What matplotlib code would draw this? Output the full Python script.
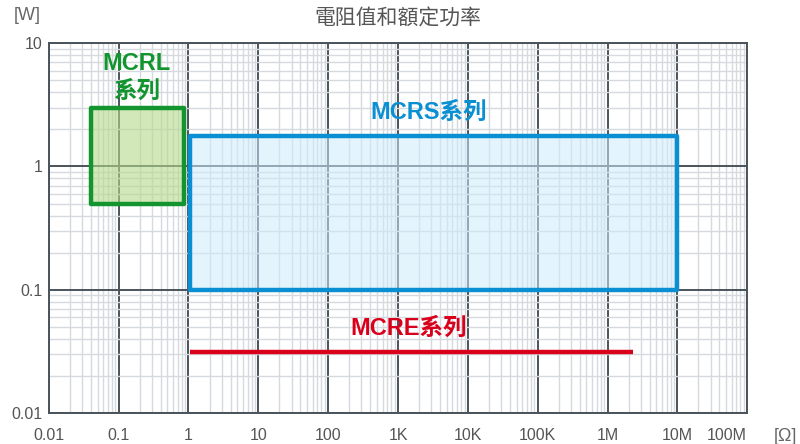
import matplotlib.pyplot as plt
from matplotlib.ticker import LogLocator, FixedLocator, NullFormatter

plt.rcParams['font.family'] = ['Liberation Sans', 'Noto Sans CJK TC', 'DejaVu Sans']

# 軸の目盛り
x_ticks = [0.01, 0.1, 1, 10, 100, 1e3, 1e4, 1e5, 1e6, 1e7, 1e8]
x_labels = ["0.01", "0.1", "1", "10", "100", "1K", "10K", "100K", "1M", "10M", "100M"]
y_ticks = [0.01, 0.1, 1, 10]
y_labels = ["0.01", "0.1", "1", "10"]

# 各シリーズの範囲 (抵抗値 [Ω], 定格電力 [W])
mcrl_r = [0.04, 0.85]
mcrl_w = [0.5, 3.0]
mcrs_r = [1.05, 1e7]
mcrs_w = [0.1, 1.78]
mcre_r = [1.05, 2.3e6]
mcre_w = [0.031, 0.031]

major_c = '#4a525a'
minor_c = '#d6dadf'

fig = plt.figure(figsize=(8, 4.44), dpi=100)
ax = fig.add_axes([0.061, 0.0698, 0.873, 0.833])
ax.set_xscale('log')
ax.set_yscale('log')
ax.set_xlim(0.01, 1e8)
ax.set_ylim(0.01, 10)

ax.xaxis.set_major_locator(FixedLocator(x_ticks))
ax.set_xticklabels(x_labels)
ax.yaxis.set_major_locator(FixedLocator(y_ticks))
ax.set_yticklabels(y_labels)
ax.xaxis.set_minor_locator(LogLocator(base=10, subs=range(2, 10), numticks=20))
ax.yaxis.set_minor_locator(LogLocator(base=10, subs=range(2, 10), numticks=20))
ax.xaxis.set_minor_formatter(NullFormatter())
ax.yaxis.set_minor_formatter(NullFormatter())

ax.grid(True, which='minor', color=minor_c, linewidth=1.0, zorder=0)
ax.grid(True, which='major', color=major_c, linewidth=1.4, zorder=1)
ax.set_axisbelow(True)
for s in ax.spines.values():
    s.set_color(major_c)
    s.set_linewidth(1.4)
ax.tick_params(which='both', length=0, colors='#555555', labelsize=11.5)
ax.tick_params(axis='x', pad=11)
ax.tick_params(axis='y', pad=4.5)
# 100M のラベルは [Ω] の前に少し左へ
ax.get_xticklabels()[-1].set_horizontalalignment('right')
ax.get_xticklabels()[-1].set_x(1e8)

# MCRL
ax.fill([mcrl_r[0], mcrl_r[1], mcrl_r[1], mcrl_r[0]],
        [mcrl_w[0], mcrl_w[0], mcrl_w[1], mcrl_w[1]],
        facecolor='#b5d98a', alpha=0.6, edgecolor='none', zorder=2)
ax.fill([mcrl_r[0], mcrl_r[1], mcrl_r[1], mcrl_r[0]],
        [mcrl_w[0], mcrl_w[0], mcrl_w[1], mcrl_w[1]],
        facecolor='none', edgecolor='#12952f', linewidth=3.2, joinstyle='round', zorder=3)

# MCRS
ax.fill([mcrs_r[0], mcrs_r[1], mcrs_r[1], mcrs_r[0]],
        [mcrs_w[0], mcrs_w[0], mcrs_w[1], mcrs_w[1]],
        facecolor='#cdebfb', alpha=0.55, edgecolor='none', zorder=2)
ax.fill([mcrs_r[0], mcrs_r[1], mcrs_r[1], mcrs_r[0]],
        [mcrs_w[0], mcrs_w[0], mcrs_w[1], mcrs_w[1]],
        facecolor='none', edgecolor='#0b8fd3', linewidth=3.2, joinstyle='round', zorder=3)

# MCRE
ax.plot(mcre_r, mcre_w, color='#d9001b', linewidth=3.2, solid_capstyle='butt', zorder=3)

ax.text(0.18, 5.25, "MCRL\n系列", color='#12952f', fontsize=17, fontweight='bold',
        ha='center', va='center', linespacing=1.3, zorder=4)
ax.text(2.77e3, 2.76, "MCRS系列", color='#0b8fd3', fontsize=17, fontweight='bold',
        ha='center', va='center', zorder=4)
ax.text(1.44e3, 0.049, "MCRE系列", color='#d9001b', fontsize=17, fontweight='bold',
        ha='center', va='center', zorder=4)

fig.text(0.497, 0.958, "電阻值和額定功率", ha='center', va='center', fontsize=15, color='#555555')
fig.text(0.034, 0.965, "[W]", ha='center', va='center', fontsize=13, color='#666666')
fig.text(0.997, 0.016, "[Ω]", ha='right', va='center', fontsize=13, color='#666666')

fig.savefig("out.png", dpi=100)
